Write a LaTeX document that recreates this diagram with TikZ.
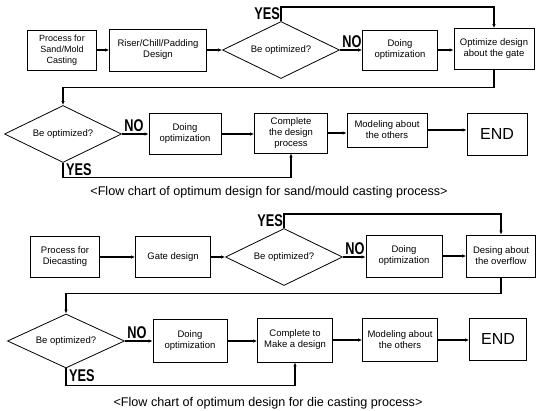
\documentclass[tikz,border=0pt]{standalone}
\usepackage{fontspec}
\setmainfont{Liberation Sans}
\usepackage{tikz}
\usetikzlibrary{arrows.meta, positioning, shapes.geometric, calc}

\newcommand{\ynlabel}[1]{\scalebox{0.75}[1]{#1}}

\tikzset{
  box/.style={draw, line width=0.8pt, align=center, inner sep=1pt, font=\fontsize{9.5}{11}\selectfont},
  choice/.style={draw, diamond, aspect=2, line width=0.8pt, inner sep=0pt, minimum width=117pt, minimum height=57pt, font=\fontsize{9.5}{11}\selectfont},
  link/.style={line width=1.1pt, -{Latex[length=4pt,width=3.5pt]}},
  yn/.style={font=\bfseries\fontsize{17}{17}\selectfont, inner sep=1pt},
  caption/.style={font=\fontsize{12.6}{14}\selectfont},
}

\begin{document}
\begin{tikzpicture}[x=1pt, y=-1pt]
  \useasboundingbox (0,0) rectangle (537,411);

  % Sand/mould casting
  \node[box, minimum width=69pt, minimum height=40pt, font=\fontsize{9}{11}\selectfont] (sand) at (62,50) {Process for\\Sand/Mold\\Casting};
  \node[box, minimum width=97pt, minimum height=42pt] (riser) at (158,50) {Riser/Chill/Padding\\Design};
  \node[choice] (opt1) at (281,50) {Be optimized?};
  \node[box, minimum width=75pt, minimum height=40pt] (doing1) at (400,50) {Doing\\optimization};
  \node[box, minimum width=80pt, minimum height=41pt] (gate1) at (494,49) {Optimize design\\about the gate};

  \node[choice] (opt2) at (63,134) {Be optimized?};
  \node[box, minimum width=72pt, minimum height=41pt] (doing2) at (185,134) {Doing\\optimization};
  \node[box, minimum width=73pt, minimum height=40pt] (complete1) at (291,133) {Complete\\the design\\process};
  \node[box, minimum width=80pt, minimum height=34pt] (model1) at (387,130) {Modeling about\\the others};
  \node[box, minimum width=60pt, minimum height=42pt, font=\fontsize{16}{16}\selectfont] (end1) at (497,134) {END};

  \node[caption] (cap1) at (269,192) {<Flow chart of optimum design for sand/mould casting process>};

  \draw[link] (sand) -- (riser);
  \draw[link] (riser) -- (opt1);
  \draw[link] (opt1) -- (doing1) node[yn, pos=0, anchor=south west, xshift=1pt, yshift=1pt] {\ynlabel{NO}};
  \draw[link] (doing1) -- (doing1 -| gate1.west);
  \coordinate (top1) at (281,7);
  \draw[link] (opt1.north) -- (top1) -| (gate1.north);
  \node[yn, anchor=south east] at (opt1.north) {\ynlabel{YES}};
  \draw[link] (gate1.south) -- ++(0,18) -| (opt2.north);
  \draw[link] (opt2) -- (doing2) node[yn, pos=0, anchor=south west, xshift=1pt, yshift=1pt] {\ynlabel{NO}};
  \draw[link] (doing2.east) -- (doing2.east -| complete1.west);
  \draw[link] (complete1.east) -- (complete1.east -| model1.west);
  \draw[link] (model1.east) -- (model1.east -| end1.west);
  \draw[link] (opt2.south) -- ++(0,15) -| (complete1.south);
  \node[yn, anchor=north west, xshift=2pt] at (opt2.south) {\ynlabel{YES}};

  % Die casting
  \node[box, minimum width=69pt, minimum height=41pt] (die) at (65,257) {Process for\\Diecasting};
  \node[box, minimum width=75pt, minimum height=41pt] (gate2) at (173,257) {Gate design};
  \node[choice] (opt3) at (284,257) {Be optimized?};
  \node[box, minimum width=76pt, minimum height=42pt] (doing3) at (404,256) {Doing\\optimization};
  \node[box, minimum width=69pt, minimum height=42pt] (flow) at (501,256) {Desing about\\the overflow};

  \node[choice, minimum height=54pt] (opt4) at (66,341) {Be optimized?};
  \node[box, minimum width=74pt, minimum height=43pt] (doing4) at (190,341) {Doing\\optimization};
  \node[box, minimum width=75pt, minimum height=44pt] (complete2) at (295,340) {Complete to\\Make a design};
  \node[box, minimum width=75pt, minimum height=43pt] (model2) at (400,340) {Modeling about\\the others};
  \node[box, minimum width=57pt, minimum height=42pt, font=\fontsize{16}{16}\selectfont] (end2) at (498,339) {END};

  \node[caption] (cap2) at (268,403) {<Flow chart of optimum design for die casting process>};

  \draw[link] (die) -- (gate2);
  \draw[link] (gate2) -- (opt3);
  \draw[link] (opt3) -- (opt3 -| doing3.west) node[yn, pos=0, anchor=south west, xshift=1pt, yshift=1pt] {\ynlabel{NO}};
  \draw[link] (doing3) -- (flow);
  \coordinate (top3) at (284,214);
  \draw[link] (opt3.north) -- (top3) -| (flow.north);
  \node[yn, anchor=south east] at (opt3.north) {\ynlabel{YES}};
  \draw[link] (flow.south) -- ++(0,16) -| (opt4.north);
  \draw[link] (opt4) -- (doing4) node[yn, pos=0, anchor=south west, xshift=1pt, yshift=1pt] {\ynlabel{NO}};
  \draw[link] (doing4.east) -- (doing4.east -| complete2.west);
  \draw[link] (complete2.east) -- (complete2.east -| model2.west);
  \draw[link] (model2.east) -- (model2.east -| end2.west);
  \draw[link] (opt4.south) -- ++(0,17) -| (complete2.south);
  \node[yn, anchor=north west, xshift=2pt] at (opt4.south) {\ynlabel{YES}};
\end{tikzpicture}
\end{document}
